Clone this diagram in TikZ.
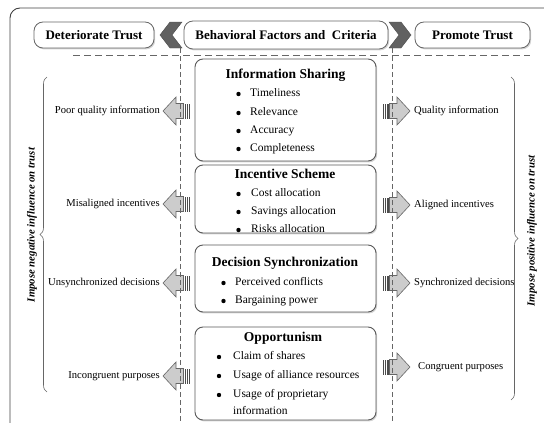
\documentclass[tikz,border=0pt]{standalone}
\usepackage{fontspec}
\setmainfont{Liberation Serif}
\usetikzlibrary{shadows,decorations.pathreplacing}
\begin{document}
\begin{tikzpicture}[x=1pt,y=-1pt,
  shadowed/.style={drop shadow={shadow xshift=1.2pt,shadow yshift=-1.4pt,opacity=0.35}},
  hdr/.style={draw=black!60,line width=0.8pt,rounded corners=9pt,fill=white,shadowed,
    font=\fontsize{13}{15}\selectfont\bfseries,inner sep=0pt},
  cbox/.style={draw=black!65,line width=0.9pt,rounded corners=8pt,fill=white,shadowed,inner sep=0pt},
  ttl/.style={font=\fontsize{13.5}{15}\selectfont\bfseries,inner sep=0pt,text height=9.5pt,text depth=3pt},
  itm/.style={font=\fontsize{11.5}{13}\selectfont,anchor=west,inner sep=0pt,text height=8pt,text depth=2.5pt},
  bul/.style={circle,fill=black,inner sep=0pt,minimum size=4.4pt},
  lab/.style={font=\fontsize{10.6}{12}\selectfont,inner sep=0pt,text height=7.5pt,text depth=2.2pt},
  side/.style={font=\fontsize{10.8}{12}\selectfont\bfseries\itshape,rotate=90,inner sep=0pt},
  chev/.style={fill=black!62,draw=black!70,line width=0.4pt},
  dsh/.style={draw=black!60,dashed},
  brc/.style={draw=black!60,line width=0.6pt,decorate,decoration={brace,amplitude=7pt}},
  blockarrow/.pic={
    \path[fill=black!20,draw=black!60,line width=0.6pt]
      (0,0) -- (13,-14) -- (13,-7.5) -- (20.5,-7.5) -- (20.5,7.5) -- (13,7.5) -- (13,14) -- cycle;
    \fill[black!70] (21.5,-7.5) rectangle (23,7.5);
    \fill[black!70] (24,-7.5) rectangle (25.4,7.5);
    \fill[black!70] (26.3,-7.5) rectangle (27.4,7.5);
  }
]
\useasboundingbox (0,0) rectangle (544,423);
% outer frame
\draw[black!75,line width=0.9pt,rounded corners=10pt] (10,424) -- (10,8) -- (546,8);

% header
\node[hdr,minimum width=120pt,minimum height=26pt] (dt) at (94,35) {Deteriorate Trust};
\node[hdr,minimum width=204pt,minimum height=28pt] (bf) at (286,35) {Behavioral Factors and\ \ Criteria};
\node[hdr,minimum width=115pt,minimum height=26pt] (pt) at (472.5,35) {Promote Trust};
\path[chev] (160,35) -- (170,22) -- (182,22) -- (172,35) -- (182,48) -- (170,48) -- cycle;
\path[chev] (411,35) -- (401,22) -- (389,22) -- (399,35) -- (389,48) -- (401,48) -- cycle;

% center boxes
\node[cbox,minimum width=181pt,minimum height=102pt] (b1) at (285.5,110) {};
\node[cbox,minimum width=181pt,minimum height=68pt] (b2) at (285.5,199) {};
\node[cbox,minimum width=181pt,minimum height=67pt] (b3) at (285.5,278.5) {};
\node[cbox,minimum width=181pt,minimum height=93pt] (b4) at (285.5,373.5) {};

\node[ttl] (t1) at (285.5,75) {Information Sharing};
\foreach \y/\t [count=\i] in {94/Timeliness,113/Relevance,131/Accuracy,149/Completeness}{
  \node[bul] (p1\i) at (238.5,\y) {};
  \node[itm] (i1\i) at (250,\y) {\t};
}
\node[ttl] (t2) at (285,175) {Incentive Scheme};
\foreach \y/\t [count=\i] in {194/Cost allocation,212/Savings allocation,230/Risks allocation}{
  \node[bul] (p2\i) at (238.5,\y) {};
  \node[itm] (i2\i) at (251,\y) {\t};
}
\node[ttl] (t3) at (285,263) {Decision Synchronization};
\foreach \y/\t [count=\i] in {283/Perceived conflicts,301/Bargaining power}{
  \node[bul] (p3\i) at (223.5,\y) {};
  \node[itm] (i3\i) at (235,\y) {\t};
}
\node[ttl] (t4) at (283,338) {Opportunism};
\foreach \y/\t [count=\i] in {357/Claim of shares,376/Usage of alliance resources,395/Usage of proprietary}{
  \node[bul] (p4\i) at (219,\y) {};
  \node[itm] (i4\i) at (233,\y) {\t};
}
\node[itm] (i44) at (233,412) {information};

% arrows
\foreach \y in {111,204,283,376}{ \pic at (163,\y) {blockarrow}; }
\foreach \y in {111,205,283,367}{ \pic[xscale=-1] at (410,\y) {blockarrow}; }

% labels
\node[lab,anchor=east] (l1) at (160,111) {Poor quality information};
\node[lab,anchor=east] (l2) at (160,204) {Misaligned incentives};
\node[lab,anchor=east] (l3) at (160,283) {Unsynchronized decisions};
\node[lab,anchor=east] (l4) at (160,376) {Incongruent purposes};
\node[lab,anchor=west] (r1) at (414,111) {Quality information};
\node[lab,anchor=west] (r2) at (414,205) {Aligned incentives};
\node[lab,anchor=west] (r3) at (414,283) {Synchronized decisions};
\node[lab,anchor=west] (r4) at (418,367) {Congruent purposes};

% dashed lines
\coordinate (hl) at (73,55);
\coordinate (hr) at (530,55);
\draw[dsh,line width=0.9pt,dash pattern=on 7pt off 4pt] (hl) -- (hr);
\coordinate (v1t) at (180,48); \coordinate (v1b) at (180,423);
\coordinate (v2t) at (392,48); \coordinate (v2b) at (392,423);
\draw[dsh,line width=0.6pt,dash pattern=on 5pt off 3pt] (v1t) -- (v1b);
\draw[dsh,line width=0.6pt,dash pattern=on 5pt off 3pt] (v2t) -- (v2b);

% braces
\coordinate (lb1) at (47,392); \coordinate (lb2) at (47,77);
\coordinate (rb1) at (511,77); \coordinate (rb2) at (511,400);
\draw[brc] (lb1) -- (lb2);
\draw[brc] (rb1) -- (rb2);

\node[side] (sl) at (32,225) {Impose negative influence on trust};
\node[side] (sr) at (532,231) {Impose positive influence on trust};
\end{tikzpicture}
\end{document}
